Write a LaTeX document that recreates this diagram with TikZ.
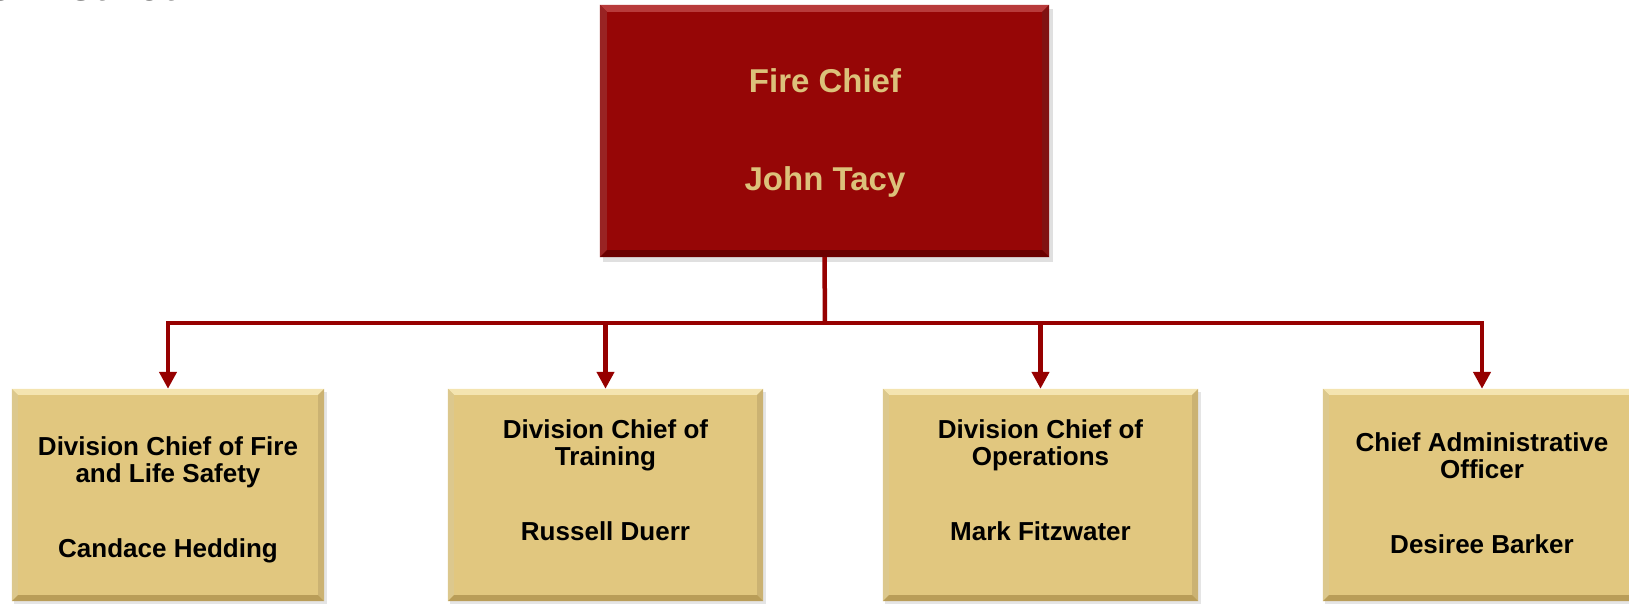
\documentclass[tikz,border=0pt]{standalone}
\usepackage{fontspec}
\setmainfont{Liberation Sans}
\usetikzlibrary{arrows.meta,calc}
\definecolor{chiefred}{HTML}{960606}
\definecolor{chieflight}{HTML}{B83B3B}
\definecolor{chiefdark}{HTML}{6A0000}
\definecolor{goldtext}{HTML}{DCC17A}
\definecolor{goldfill}{HTML}{E1C77F}
\definecolor{goldlight}{HTML}{F4E4B0}
\definecolor{golddark}{HTML}{B99D58}
\definecolor{connred}{HTML}{960000}
\tikzset{
  redbox/.style={draw=none,fill=chiefred,minimum width=449pt,minimum height=252pt,inner sep=0pt},
  goldbox/.style={draw=none,fill=goldfill,minimum height=212pt,inner sep=0pt},
  goldlabel/.style={text=goldtext,font=\bfseries\fontsize{33}{38}\selectfont,inner sep=0pt},
  roletext/.style={text=black,font=\bfseries\fontsize{26}{27}\selectfont,align=center,inner sep=0pt},
  conn/.style={draw=connred,line width=4.5pt},
  tip/.style={-{Triangle[width=17pt,length=17pt]}}
}
\newcommand{\bevel}[4]{%
  \fill[#2] (#1.north west) -- (#1.north east) -- ([shift={(-#4,#4)}]#1.north east) -- ([shift={(#4,#4)}]#1.north west) -- cycle;
  \fill[#2!60!#3] (#1.north west) -- ([shift={(#4,#4)}]#1.north west) -- ([shift={(#4,-#4)}]#1.south west) -- (#1.south west) -- cycle;
  \fill[#3!70!#2] (#1.north east) -- ([shift={(-#4,#4)}]#1.north east) -- ([shift={(-#4,-#4)}]#1.south east) -- (#1.south east) -- cycle;
  \fill[#3] (#1.south west) -- ([shift={(#4,-#4)}]#1.south west) -- ([shift={(-#4,-#4)}]#1.south east) -- (#1.south east) -- cycle;
}
\begin{document}
\begin{tikzpicture}[x=1pt,y=-1pt]
\useasboundingbox (0,0) rectangle (1629,604);
% partial heading at top left
\node[anchor=base east,inner sep=0pt,font=\bfseries\itshape\fontsize{44}{50}\selectfont] (head) at (178,1) {Fire District};
% shadows
\fill[black!12] (603,9) rectangle (1053,262);
\foreach \xa/\xb in {14/327,450/766,885/1201,1325/1640}{\fill[black!10] (\xa,392) rectangle (\xb,606);}
% top box
\node[redbox] (chief) at (824.5,131) {};
\bevel{chief}{chieflight}{chiefdark}{7}
\node[goldlabel,anchor=base] (chiefrole) at (825,93) {Fire Chief};
\node[goldlabel,anchor=base] (chiefname) at (825,190) {John Tacy};
% bottom boxes
\node[goldbox,minimum width=312pt] (d1) at (168,495) {};
\node[goldbox,minimum width=315pt] (d2) at (605.5,495) {};
\node[goldbox,minimum width=315pt] (d3) at (1040.5,495) {};
\node[goldbox,minimum width=318pt] (d4) at (1482,495) {};
\bevel{d1}{goldlight}{golddark}{6}
\bevel{d2}{goldlight}{golddark}{6}
\bevel{d3}{goldlight}{golddark}{6}
\bevel{d4}{goldlight}{golddark}{6}
\node[roletext,anchor=north] (d1role) at (168,436) {Division Chief of Fire\\and Life Safety};
\node[roletext,anchor=base] (d1name) at (168,557) {Candace Hedding};
\node[roletext,anchor=north] (d2role) at (605.5,419) {Division Chief of\\Training};
\node[roletext,anchor=base] (d2name) at (605.5,540) {Russell Duerr};
\node[roletext,anchor=north] (d3role) at (1040.5,419) {Division Chief of\\Operations};
\node[roletext,anchor=base] (d3name) at (1040.5,540) {Mark Fitzwater};
\node[roletext,anchor=north] (d4role) at (1482,432) {Chief Administrative\\Officer};
\node[roletext,anchor=base] (d4name) at (1482,553) {Desiree Barker};
% connectors
\coordinate (bus) at (825,323);
\draw[conn] (chief.south) -- (bus);
\draw[conn,tip] (bus) -| (d1.north);
\draw[conn,tip] (bus) -| (d2.north);
\draw[conn,tip] (bus) -| (d3.north);
\draw[conn,tip] (bus) -| (d4.north);
\end{tikzpicture}
\end{document}
